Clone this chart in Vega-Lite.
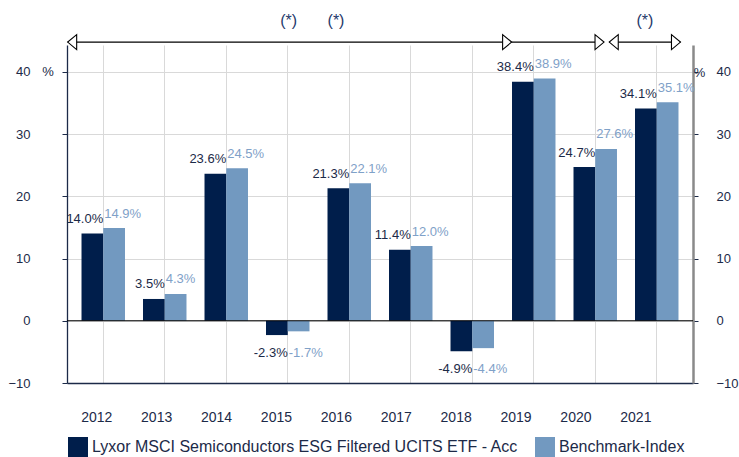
{
  "$schema": "https://vega.github.io/schema/vega-lite/v6.json",
  "width": 626,
  "height": 338,
  "autosize": {"type": "none"},
  "padding": {"left": 67, "top": 45, "right": 46, "bottom": 74},
  "background": "white",
  "config": {"font": "Liberation Sans", "view": {"stroke": null}},
  "data": {
    "values": [
      {"year": "2012", "series": "Lyxor MSCI Semiconductors ESG Filtered UCITS ETF - Acc", "value": 14.0},
      {"year": "2012", "series": "Benchmark-Index", "value": 14.9},
      {"year": "2013", "series": "Lyxor MSCI Semiconductors ESG Filtered UCITS ETF - Acc", "value": 3.5},
      {"year": "2013", "series": "Benchmark-Index", "value": 4.3},
      {"year": "2014", "series": "Lyxor MSCI Semiconductors ESG Filtered UCITS ETF - Acc", "value": 23.6},
      {"year": "2014", "series": "Benchmark-Index", "value": 24.5},
      {"year": "2015", "series": "Lyxor MSCI Semiconductors ESG Filtered UCITS ETF - Acc", "value": -2.3},
      {"year": "2015", "series": "Benchmark-Index", "value": -1.7},
      {"year": "2016", "series": "Lyxor MSCI Semiconductors ESG Filtered UCITS ETF - Acc", "value": 21.3},
      {"year": "2016", "series": "Benchmark-Index", "value": 22.1},
      {"year": "2017", "series": "Lyxor MSCI Semiconductors ESG Filtered UCITS ETF - Acc", "value": 11.4},
      {"year": "2017", "series": "Benchmark-Index", "value": 12.0},
      {"year": "2018", "series": "Lyxor MSCI Semiconductors ESG Filtered UCITS ETF - Acc", "value": -4.9},
      {"year": "2018", "series": "Benchmark-Index", "value": -4.4},
      {"year": "2019", "series": "Lyxor MSCI Semiconductors ESG Filtered UCITS ETF - Acc", "value": 38.4},
      {"year": "2019", "series": "Benchmark-Index", "value": 38.9},
      {"year": "2020", "series": "Lyxor MSCI Semiconductors ESG Filtered UCITS ETF - Acc", "value": 24.7},
      {"year": "2020", "series": "Benchmark-Index", "value": 27.6},
      {"year": "2021", "series": "Lyxor MSCI Semiconductors ESG Filtered UCITS ETF - Acc", "value": 34.1},
      {"year": "2021", "series": "Benchmark-Index", "value": 35.1}
    ]
  },
  "layer": [
    {
      "layer": [
        {
          "mark": {"type": "bar", "strokeWidth": 0},
          "encoding": {
            "x": {
              "field": "year", "type": "ordinal",
              "scale": {"paddingInner": 0.293, "paddingOuter": 0.236},
              "axis": {
                "orient": "bottom", "title": null, "ticks": false, "labelAngle": 0,
                "labelPadding": 27, "labelFontSize": 14, "labelColor": "#1c2a48",
                "labelOffset": {"expr": "-6.5 - 1.6*(toNumber(datum.value) - 2012)"},
                "domainColor": "#1c2a48", "domainWidth": 1.3,
                "grid": true, "gridColor": "#d9d9d9", "gridWidth": 1, "bandPosition": 0.5
              }
            },
            "xOffset": {"field": "series", "type": "nominal", "sort": ["Lyxor MSCI Semiconductors ESG Filtered UCITS ETF - Acc", "Benchmark-Index"]},
            "y": {
              "field": "value", "type": "quantitative",
              "scale": {"domain": [-10, 44.3], "nice": false, "zero": false},
              "axis": {
                "orient": "left", "values": [-10, 0, 10, 20, 30, 40],
                "title": "%", "titleAngle": 0, "titleX": -19.5, "titleY": 26.8,
                "titleAlign": "center", "titleBaseline": "middle",
                "titleFontWeight": "normal", "titleFontSize": 13, "titleColor": "#1c2a48",
                "labelFontSize": 13, "labelColor": "#1c2a48", "labelPadding": 32,
                "tickSize": 5, "tickColor": "#1c2a48", "domainColor": "#1c2a48", "domainWidth": 1.3,
                "grid": true, "gridColor": "#d9d9d9", "gridWidth": 1
              }
            },
            "color": {
              "field": "series", "type": "nominal",
              "sort": ["Lyxor MSCI Semiconductors ESG Filtered UCITS ETF - Acc", "Benchmark-Index"],
              "scale": {"domain": ["Lyxor MSCI Semiconductors ESG Filtered UCITS ETF - Acc", "Benchmark-Index"], "range": ["#001e4b", "#7299c0"]},
              "legend": {
                "orient": "none", "legendX": 1, "legendY": 392, "direction": "horizontal",
                "title": null, "symbolType": "square", "symbolSize": 400, "symbolStrokeWidth": 0,
                "labelFontSize": 16, "labelColor": "#1c2a48", "labelLimit": 1000,
                "labelOffset": 4, "columnPadding": 16, "padding": 0
              }
            }
          }
        },
        {
          "data": {"values": [{"z": 0}]},
          "mark": {"type": "rule", "color": "#000000", "strokeWidth": 1.2},
          "encoding": {"y": {"field": "z", "type": "quantitative"}}
        },
        {
          "transform": [{"filter": "datum.value > 0"}],
          "mark": {
            "type": "text", "fontSize": 13, "baseline": "alphabetic", "dy": -10.5,
            "align": {"expr": "datum.series == 'Benchmark-Index' ? 'left' : 'right'"},
            "dx": {"expr": "datum.series == 'Benchmark-Index' ? 1 : 0"},
            "fill": {"expr": "datum.series == 'Benchmark-Index' ? '#7fa1c8' : '#1c2a48'"},
            "text": {"expr": "format(datum.value, '.1f') + '%'"}
          },
          "encoding": {
            "x": {"field": "year", "type": "ordinal"},
            "y": {"field": "value", "type": "quantitative"}
          }
        },
        {
          "transform": [
            {"joinaggregate": [{"op": "min", "field": "value", "as": "minv"}], "groupby": ["year"]},
            {"filter": "datum.value < 0"}
          ],
          "mark": {
            "type": "text", "fontSize": 13, "baseline": "top", "dy": 12,
            "align": {"expr": "datum.series == 'Benchmark-Index' ? 'left' : 'right'"},
            "dx": {"expr": "datum.series == 'Benchmark-Index' ? 1 : 0"},
            "fill": {"expr": "datum.series == 'Benchmark-Index' ? '#7fa1c8' : '#1c2a48'"},
            "text": {"expr": "'-' + format(abs(datum.value), '.1f') + '%'"}
          },
          "encoding": {
            "x": {"field": "year", "type": "ordinal"},
            "y": {"field": "minv", "type": "quantitative"}
          }
        }
      ]
    },
    {
      "layer": [
        {
          "data": {"values": [
            {"a": 2011.43, "b": 2018.66, "h": 44.77},
            {"a": 2018.66, "b": 2020.165, "h": 44.77},
            {"a": 2020.25, "b": 2021.41, "h": 44.77}
          ]},
          "mark": {"type": "rule", "color": "#000000", "strokeWidth": 1.3},
          "encoding": {
            "x": {"field": "a", "type": "quantitative", "scale": {"domain": [2011.419, 2021.614], "nice": false, "zero": false}, "axis": null},
            "x2": {"field": "b"},
            "y": {
              "field": "h", "type": "quantitative",
              "scale": {"domain": [-10, 44.3], "nice": false, "zero": false},
              "axis": {
                "orient": "right", "values": [-10, 0, 10, 20, 30, 40],
                "title": "%", "titleAngle": 0, "titleX": 6, "titleY": 27.5,
                "titleAlign": "center", "titleBaseline": "middle",
                "titleFontWeight": "normal", "titleFontSize": 13, "titleColor": "#1c2a48",
                "labelFontSize": 13, "labelColor": "#1c2a48", "labelPadding": 18,
                "tickSize": 5, "tickColor": "#1c2a48", "domainColor": "#8a8a8a", "domainWidth": 2.5,
                "grid": false
              }
            }
          }
        },
        {
          "data": {"values": [
            {"p": 2011.43, "dir": "left", "h": 44.77},
            {"p": 2018.66, "dir": "right", "h": 44.77},
            {"p": 2020.165, "dir": "right", "h": 44.77},
            {"p": 2020.25, "dir": "left", "h": 44.77},
            {"p": 2021.41, "dir": "right", "h": 44.77}
          ]},
          "mark": {"type": "point", "filled": false, "fill": "white", "fillOpacity": 1, "stroke": "#000000", "strokeWidth": 1.1, "size": 225, "opacity": 1},
          "encoding": {
            "x": {"field": "p", "type": "quantitative", "axis": null},
            "y": {"field": "h", "type": "quantitative"},
            "shape": {
              "field": "dir", "type": "nominal", "legend": null,
              "scale": {"domain": ["left", "right"], "range": ["M1.2,-1L0,0L1.2,1Z", "M-1.2,-1L0,0L-1.2,1Z"]}
            }
          }
        },
        {
          "data": {"values": [
            {"p": 2015.03, "h": 48.1, "t": "(*)"},
            {"p": 2015.80, "h": 48.1, "t": "(*)"},
            {"p": 2020.83, "h": 48.1, "t": "(*)"}
          ]},
          "mark": {"type": "text", "fontSize": 16, "baseline": "middle", "align": "center", "fill": "#1f3a6b"},
          "encoding": {
            "x": {"field": "p", "type": "quantitative", "axis": null},
            "y": {"field": "h", "type": "quantitative"},
            "text": {"field": "t"}
          }
        }
      ]
    }
  ],
  "resolve": {"scale": {"x": "independent", "y": "independent", "shape": "independent"}}
}
